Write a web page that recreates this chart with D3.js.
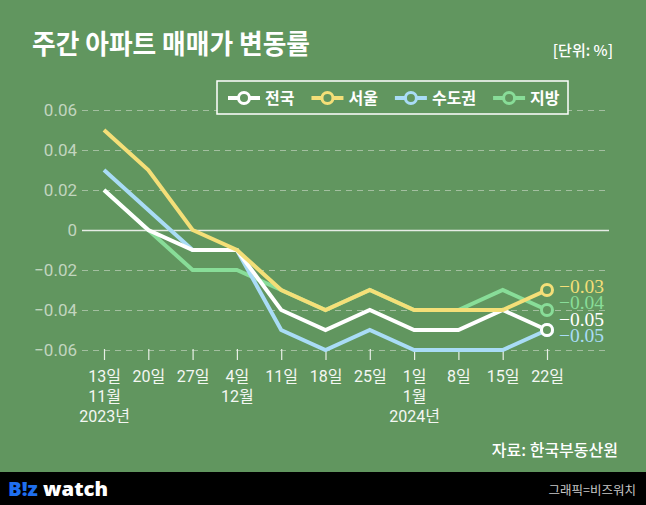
<!DOCTYPE html>
<html><head><meta charset="utf-8">
<script src="https://cdn.jsdelivr.net/npm/d3@7"></script>
<style>
html,body{margin:0;padding:0;background:#61965F;}
svg{display:block;}
</style></head>
<body>
<svg id="chart" width="646" height="505"></svg>
<script>
const dayLabels = ["13일","20일","27일","4일","11일","18일","25일","1일","8일","15일","22일"];
const monthLabels = ["11월","","","12월","","","","1월","","",""];
const yearLabels = ["2023년","","","","","","","2024년","","",""];
const seriesNames = ["전국","서울","수도권","지방"];
const nationwide = [0.02, 0.00, -0.01, -0.01, -0.04, -0.05, -0.04, -0.05, -0.05, -0.04, -0.05];
const seoul      = [0.05, 0.03, 0.00, -0.01, -0.03, -0.04, -0.03, -0.04, -0.04, -0.04, -0.03];
const capital    = [0.03, 0.01, -0.01, -0.01, -0.05, -0.06, -0.05, -0.06, -0.06, -0.06, -0.05];
const regional   = [0.02, 0.00, -0.02, -0.02, -0.03, -0.04, -0.03, -0.04, -0.04, -0.03, -0.04];
const yTicks = [0.06, 0.04, 0.02, 0, -0.02, -0.04, -0.06];

const BG = "#61965F";
const colors = {"전국":"#ffffff","서울":"#f4df78","수도권":"#a9dcf6","지방":"#88dd98"};
const seriesData = {"전국":nationwide,"서울":seoul,"수도권":capital,"지방":regional};
const drawOrder = ["지방","수도권","전국","서울"];
const markerOrder = ["지방","수도권","서울","전국"];

const svg = d3.select("#chart");
const KR = "Roboto, 'Noto Sans CJK KR', sans-serif";

svg.append("rect").attr("width",646).attr("height",505).attr("fill",BG);

const x = d3.scalePoint().domain(d3.range(dayLabels.length)).range([104, 547]);
const y = d3.scaleLinear().domain([-0.06, 0.06]).range([350, 110]);

// Title
svg.append("text").attr("x",32).attr("y",54)
  .attr("font-family","'Noto Sans CJK KR', sans-serif").attr("font-weight",700)
  .attr("font-size",27).attr("fill","#fff")
  .attr("textLength",278).attr("lengthAdjust","spacingAndGlyphs")
  .text("주간 아파트 매매가 변동률");
svg.append("text").attr("x",613).attr("y",56).attr("text-anchor","end")
  .attr("font-family","'Noto Sans CJK KR', sans-serif").attr("font-weight",500)
  .attr("font-size",15).attr("fill","#fff").text("[단위: %]");

// Y axis + gridlines
const yAxis = d3.axisLeft(y).tickValues(yTicks).tickSize(-(609-82)).tickPadding(5)
  .tickFormat(d => d === 0 ? "0" : d3.format(".2f")(d));
const gy = svg.append("g").attr("transform","translate(82,0)").call(yAxis);
gy.select(".domain").remove();
gy.selectAll(".tick line")
  .attr("stroke", d => d === 0 ? "#e6ece5" : "#a3bfa0")
  .attr("stroke-width", d => d === 0 ? 1.5 : 1)
  .attr("stroke-dasharray", d => d === 0 ? null : "6,5");
gy.selectAll(".tick text").attr("font-family","Roboto, 'Liberation Sans', sans-serif")
  .attr("font-size",17).attr("fill","#c2d5bf");

// X axis
const xAxis = d3.axisBottom(x).tickSize(11).tickPadding(0).tickFormat(() => "");
const gx = svg.append("g").attr("transform","translate(0,349)").call(xAxis);
gx.select(".domain").remove();
gx.selectAll(".tick line").attr("stroke","#e8efe7").attr("stroke-width",1.2);
gx.selectAll(".tick").each(function(d){
  const t = d3.select(this).select("text").attr("y",0).attr("dy",null)
    .attr("font-family",KR).attr("font-size",16).attr("fill","#f4f7f3");
  t.text(null);
  t.append("tspan").attr("x",0).attr("y",33).text(dayLabels[d]);
  if (monthLabels[d]) t.append("tspan").attr("x",0).attr("y",53).text(monthLabels[d]);
  if (yearLabels[d]) t.append("tspan").attr("x",0).attr("y",73).text(yearLabels[d]);
});

// Lines
const line = d3.line().x((d,i) => x(i)).y(d => y(d));
const last = dayLabels.length - 1;
drawOrder.forEach(name => {
  svg.append("path").datum(seriesData[name]).attr("d",line)
    .attr("fill","none").attr("stroke",colors[name]).attr("stroke-width",4)
    .attr("stroke-linejoin","miter");
});
markerOrder.forEach(name => {
  svg.append("circle").attr("cx",x(last)).attr("cy",y(seriesData[name][last])).attr("r",5.5)
    .attr("fill",BG).attr("stroke",colors[name]).attr("stroke-width",3);
});

// End labels (stacked to avoid overlap)
const endOrder = ["서울","지방","전국","수도권"];
const endBaselines = [293, 309, 326, 342];
endOrder.forEach((name,i) => {
  svg.append("text").attr("x",559).attr("y",endBaselines[i])
    .attr("font-family","'Liberation Serif', 'DejaVu Serif', serif").attr("font-size",19.5)
    .attr("fill",colors[name])
    .text(d3.format(".2f")(seriesData[name][last]));
});

// Legend
const lg = svg.append("g");
lg.append("rect").attr("x",217).attr("y",81).attr("width",351).attr("height",33)
  .attr("fill",BG).attr("stroke","#fff").attr("stroke-width",1.5);
let lx = 228;
seriesNames.forEach(name => {
  const g = lg.append("g").attr("transform",`translate(${lx},98)`);
  g.append("line").attr("x1",0).attr("x2",32).attr("stroke",colors[name]).attr("stroke-width",4);
  g.append("circle").attr("cx",16).attr("r",5.5).attr("fill",BG).attr("stroke",colors[name]).attr("stroke-width",3);
  const t = g.append("text").attr("x",37).attr("y",6).attr("font-family","'Noto Sans CJK KR', sans-serif")
    .attr("font-weight",700).attr("font-size",16).attr("fill","#fff").text(name);
  lx += 37 + t.node().getComputedTextLength() + 17;
});

// Source
svg.append("text").attr("x",618).attr("y",456).attr("text-anchor","end")
  .attr("font-family","'Noto Sans CJK KR', sans-serif").attr("font-weight",500)
  .attr("font-size",16).attr("fill","#fff").text("자료: 한국부동산원");

// Footer
svg.append("rect").attr("x",0).attr("y",472).attr("width",646).attr("height",33).attr("fill","#000");
const logo = svg.append("text").attr("x",8).attr("y",496)
  .attr("font-family","'Open Sans', Roboto, sans-serif").attr("font-weight",800).attr("font-size",20)
  .attr("textLength",100).attr("lengthAdjust","spacingAndGlyphs");
logo.append("tspan").attr("fill","#1f6fee").text("B!z");
logo.append("tspan").attr("fill","#fff").text(" watch");
svg.append("text").attr("x",636).attr("y",495).attr("text-anchor","end")
  .attr("font-family","'Noto Sans CJK KR', sans-serif").attr("font-size",12.5)
  .attr("fill","#c8c8c8").text("그래픽=비즈워치");
</script>
</body></html>
